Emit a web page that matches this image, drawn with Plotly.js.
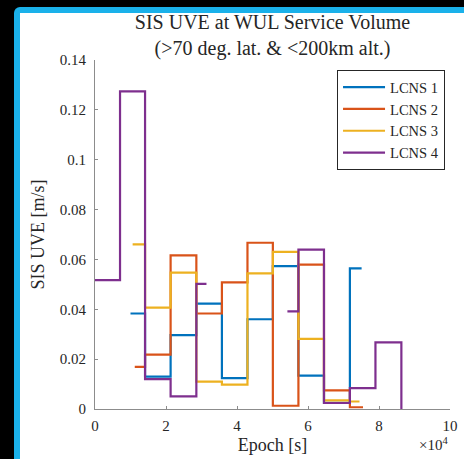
<!DOCTYPE html>
<html>
<head>
<meta charset="utf-8">
<script src="https://cdn.plot.ly/plotly-3.0.1.min.js"></script>
<style>
  html, body { margin:0; padding:0; background:#000; width:464px; height:459px; overflow:hidden; }
  #frame { position:absolute; left:14px; top:7px; width:450px; height:452px; background:#1ab1ea; border-top-left-radius:6px; }
  #inner { position:absolute; left:20px; top:13px; width:444px; height:446px; background:#fff; }
  #plot { position:absolute; left:0; top:0; width:464px; height:459px; }
</style>
</head>
<body>
<div id="frame"></div>
<div id="inner"></div>
<div id="plot"></div>
<script>
// Epoch times [s] and SIS UVE values [m/s]; null marks a gap (no data)
const seriesNames = ["LCNS 1", "LCNS 2", "LCNS 3", "LCNS 4"];

const epochLCNS1 = [10000, 14100, 21300, 28550, 35750, 42950, 50100, 57300, 64500, 71800, 75100];
const uveLCNS1   = [0.0383, 0.0130, 0.0296, 0.0423, 0.0124, 0.0360, 0.0573, 0.0134, 0.0025, 0.0564, null];

const epochLCNS2 = [11200, 14100, 21300, 28550, 35750, 42950, 50100, 57300, 64500, 71800, 75500];
const uveLCNS2   = [0.0169, 0.0218, 0.0616, 0.0383, 0.0508, 0.0667, 0.0013, 0.0579, 0.0075, 0.0007, null];

const epochLCNS3 = [10600, 14100, 21300, 28550, 35750, 42950, 50100, 57300, 64500, 71800, 74500];
const uveLCNS3   = [0.0660, 0.0407, 0.0547, 0.0110, 0.0098, 0.0544, 0.0630, 0.0281, 0.0035, 0.0030, null];

const epochLCNS4 = [0, 7050, 14100, 21300, 28550, 31400, 54200, 57300, 64500, 71800, 79000, 86300];
const uveLCNS4   = [0.0517, 0.1274, 0.0120, 0.0051, 0.0502, null, 0.0392, 0.0639, 0.0024, 0.0084, 0.0267, 0];

const xTickVals = [0, 2, 4, 6, 8, 10];
const yTickVals = [0, 0.02, 0.04, 0.06, 0.08, 0.1, 0.12, 0.14];

const colors = ["#0072BD", "#D95319", "#EDB120", "#7E2F8E"];
const FONT = "'Liberation Serif', 'Times New Roman', serif";

// Build a MATLAB-like stairs path: each value holds until the next epoch.
function stairs(t, v) {
  const xs = [], ys = [];
  for (let i = 0; i < t.length; i++) {
    if (v[i] === null) {
      if (i > 0 && v[i - 1] !== null) { xs.push(t[i] / 1e4); ys.push(v[i - 1]); }
      xs.push(null); ys.push(null);
    } else {
      xs.push(t[i] / 1e4); ys.push(v[i]);
    }
  }
  return { xs, ys };
}

const all = [[epochLCNS1, uveLCNS1], [epochLCNS2, uveLCNS2], [epochLCNS3, uveLCNS3], [epochLCNS4, uveLCNS4]];
const traces = all.map((d, k) => {
  const s = stairs(d[0], d[1]);
  return {
    x: s.xs, y: s.ys, name: seriesNames[k], type: "scatter", mode: "lines",
    line: { shape: "hv", color: colors[k], width: 2.2 }, connectgaps: false
  };
});

const axisCommon = {
  showgrid: false, zeroline: false, showline: true, linecolor: "#8c8c8c", linewidth: 1,
  ticks: "inside", ticklen: 3, tickcolor: "#8c8c8c", tickwidth: 1,
  tickfont: { family: FONT, size: 15, color: "#262626" }
};

const layout = {
  width: 464, height: 459,
  margin: { l: 95, r: 14, t: 60, b: 50 },
  paper_bgcolor: "rgba(0,0,0,0)", plot_bgcolor: "rgba(0,0,0,0)",
  showlegend: true,
  title: {
    text: "SIS UVE at WUL Service Volume<br>(&gt;70 deg. lat. &amp; &lt;200km alt.)",
    font: { family: FONT, size: 20, color: "#262626" },
    x: 0.5, xref: "paper", xanchor: "center",
    y: 1 - 29 / 459, yref: "container", yanchor: "top"
  },
  xaxis: Object.assign({}, axisCommon, {
    range: [0, 10], tickvals: xTickVals, ticktext: xTickVals.map(String),
    ticklabelstandoff: 3,
    title: { text: "Epoch [s]", font: { family: FONT, size: 18, color: "#262626" }, standoff: 5 }
  }),
  yaxis: Object.assign({}, axisCommon, {
    range: [0, 0.14], tickvals: yTickVals, ticktext: yTickVals.map(v => String(v)),
    ticklabelstandoff: 5,
    title: { text: "SIS UVE [m/s]", font: { family: FONT, size: 18, color: "#262626" }, standoff: 10 }
  }),
  legend: {
    x: 0.986, xanchor: "right", y: 0.971, yanchor: "top",
    bgcolor: "#ffffff", bordercolor: "#262626", borderwidth: 1,
    font: { family: FONT, size: 14.5, color: "#262626" },
    itemwidth: 42, tracegroupgap: 0
  },
  annotations: [{
    text: "×10<sup>4</sup>", xref: "paper", yref: "paper", x: 1.0, y: -0.07,
    xanchor: "right", yanchor: "top", showarrow: false,
    font: { family: FONT, size: 15, color: "#262626" }
  }]
};

Plotly.newPlot("plot", traces, layout, { displayModeBar: false, staticPlot: true });
</script>
</body>
</html>
